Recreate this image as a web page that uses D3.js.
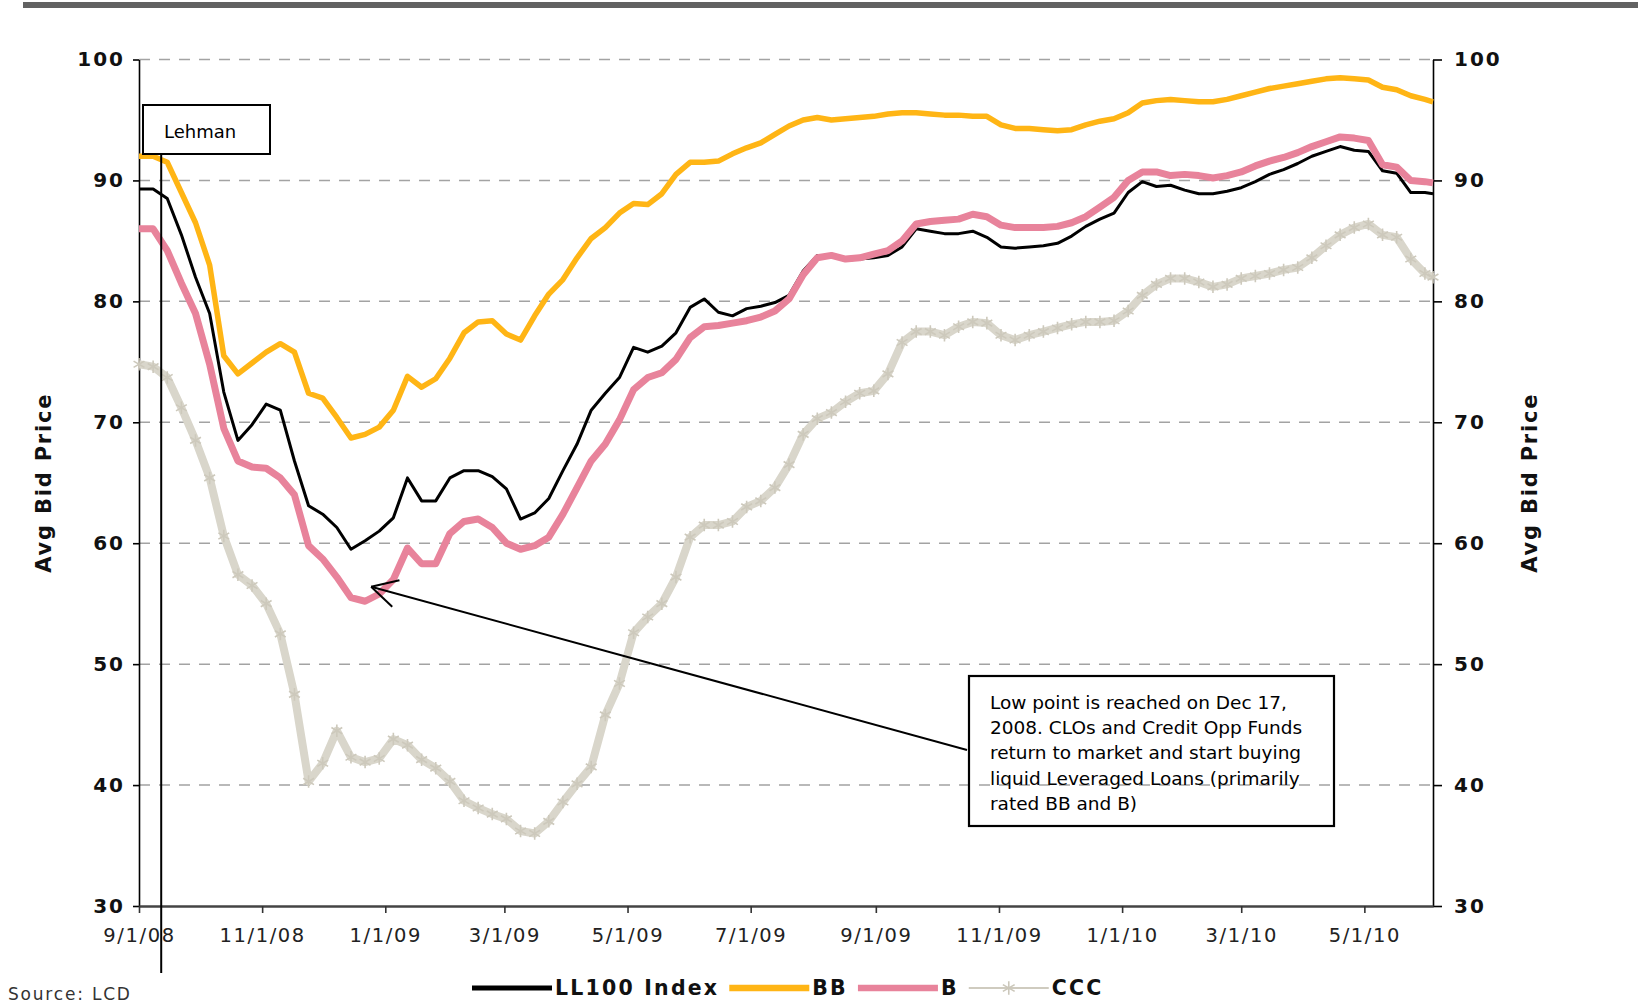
<!DOCTYPE html>
<html>
<head>
<meta charset="utf-8">
<script src="https://cdn.jsdelivr.net/npm/d3@7/dist/d3.min.js"></script>
<style>
  body { margin: 0; background: #fff; }
  svg { display: block; font-family: "DejaVu Sans", Verdana, sans-serif; }
</style>
</head>
<body>
<div id="chart"></div>
<script>
// weekly readings (Mondays), last point is the axis end
const dates = [
  "2008-09-01","2008-09-08","2008-09-15","2008-09-22","2008-09-29","2008-10-06","2008-10-13","2008-10-20","2008-10-27",
  "2008-11-03","2008-11-10","2008-11-17","2008-11-24","2008-12-01","2008-12-08","2008-12-15","2008-12-22","2008-12-29",
  "2009-01-05","2009-01-12","2009-01-19","2009-01-26","2009-02-02","2009-02-09","2009-02-16","2009-02-23",
  "2009-03-02","2009-03-09","2009-03-16","2009-03-23","2009-03-30","2009-04-06","2009-04-13","2009-04-20","2009-04-27",
  "2009-05-04","2009-05-11","2009-05-18","2009-05-25","2009-06-01","2009-06-08","2009-06-15","2009-06-22","2009-06-29",
  "2009-07-06","2009-07-13","2009-07-20","2009-07-27","2009-08-03","2009-08-10","2009-08-17","2009-08-24","2009-08-31",
  "2009-09-07","2009-09-14","2009-09-21","2009-09-28","2009-10-05","2009-10-12","2009-10-19","2009-10-26",
  "2009-11-02","2009-11-09","2009-11-16","2009-11-23","2009-11-30","2009-12-07","2009-12-14","2009-12-21","2009-12-28",
  "2010-01-04","2010-01-11","2010-01-18","2010-01-25","2010-02-01","2010-02-08","2010-02-15","2010-02-22",
  "2010-03-01","2010-03-08","2010-03-15","2010-03-22","2010-03-29","2010-04-05","2010-04-12","2010-04-19","2010-04-26",
  "2010-05-03","2010-05-10","2010-05-17","2010-05-24","2010-05-31","2010-06-04"
];

const ll100 = [
  89.3,89.3,88.5,85.5,82.0,79.0,72.5,68.5,69.8,71.5,71.0,66.8,63.1,62.4,61.3,59.5,60.2,61.0,
  62.1,65.4,63.5,63.5,65.4,66.0,66.0,65.5,64.5,62.0,62.5,63.7,66.0,68.2,71.0,72.4,73.7,
  76.2,75.8,76.3,77.4,79.5,80.2,79.1,78.8,79.4,79.6,79.9,80.5,82.5,83.8,83.7,83.4,83.5,83.6,
  83.8,84.5,86.0,85.8,85.6,85.6,85.8,85.3,84.5,84.4,84.5,84.6,84.8,85.4,86.2,86.8,87.3,
  89.0,89.9,89.5,89.6,89.2,88.9,88.9,89.1,89.4,89.9,90.5,90.9,91.4,92.0,92.4,92.8,92.5,
  92.4,90.8,90.6,89.0,89.0,88.9
];

const bb = [
  92.0,92.0,91.5,89.0,86.5,83.0,75.5,74.0,74.9,75.8,76.5,75.8,72.4,72.0,70.4,68.7,69.0,69.6,
  71.0,73.8,72.9,73.6,75.3,77.4,78.3,78.4,77.3,76.8,78.8,80.6,81.8,83.6,85.2,86.1,87.3,
  88.1,88.0,88.9,90.5,91.5,91.5,91.6,92.2,92.7,93.1,93.8,94.5,95.0,95.2,95.0,95.1,95.2,95.3,
  95.5,95.6,95.6,95.5,95.4,95.4,95.3,95.3,94.6,94.3,94.3,94.2,94.1,94.2,94.6,94.9,95.1,
  95.6,96.4,96.6,96.7,96.6,96.5,96.5,96.7,97.0,97.3,97.6,97.8,98.0,98.2,98.4,98.5,98.4,
  98.3,97.7,97.5,97.0,96.7,96.5
];

const bRated = [
  86.0,86.0,84.2,81.5,79.0,74.8,69.5,66.8,66.3,66.2,65.4,64.0,59.8,58.7,57.2,55.5,55.2,55.8,
  57.0,59.6,58.3,58.3,60.8,61.8,62.0,61.3,60.0,59.5,59.8,60.5,62.4,64.6,66.8,68.2,70.2,
  72.7,73.7,74.1,75.2,77.0,77.9,78.0,78.2,78.4,78.7,79.2,80.2,82.2,83.6,83.8,83.5,83.6,83.9,
  84.2,85.0,86.4,86.6,86.7,86.8,87.2,87.0,86.3,86.1,86.1,86.1,86.2,86.5,87.0,87.8,88.6,
  90.0,90.7,90.7,90.4,90.5,90.4,90.2,90.4,90.7,91.2,91.6,91.9,92.3,92.8,93.2,93.6,93.5,
  93.3,91.3,91.1,90.0,89.9,89.8
];

const ccc = [
  74.8,74.6,73.7,71.2,68.5,65.4,60.6,57.4,56.5,55.0,52.5,47.5,40.3,41.8,44.5,42.3,41.9,42.2,
  43.8,43.3,42.1,41.4,40.3,38.7,38.1,37.6,37.2,36.2,36.0,37.0,38.6,40.1,41.5,45.8,48.4,
  52.6,53.9,55.0,57.2,60.5,61.5,61.5,61.8,63.0,63.5,64.6,66.5,69.0,70.3,70.8,71.7,72.4,72.6,
  74.0,76.6,77.5,77.5,77.2,77.9,78.3,78.2,77.2,76.8,77.2,77.5,77.8,78.1,78.3,78.3,78.4,
  79.2,80.5,81.4,81.9,81.9,81.6,81.2,81.4,81.9,82.1,82.3,82.6,82.8,83.6,84.6,85.5,86.1,
  86.4,85.5,85.3,83.5,82.3,82.0
];

const seriesNames = ["LL100 Index", "BB", "B", "CCC"];
const yTicks = [30, 40, 50, 60, 70, 80, 90, 100];
const xTickDates = ["2008-09-01","2008-11-01","2009-01-01","2009-03-01","2009-05-01","2009-07-01",
                    "2009-09-01","2009-11-01","2010-01-01","2010-03-01","2010-05-01"];
const xTickLabels = ["9/1/08","11/1/08","1/1/09","3/1/09","5/1/09","7/1/09","9/1/09","11/1/09","1/1/10","3/1/10","5/1/10"];
const lehmanDate = "2008-09-12";
const lowPoint = { date: "2008-12-25", value: 56.4 };
const noteLines = [
  "Low point is reached on Dec 17,",
  "2008. CLOs and Credit Opp Funds",
  "return to market and start buying",
  "liquid Leveraged Loans (primarily",
  "rated BB and B)"
];

const W = 1638, H = 1006;
const plotLeft = 139, plotRight = 1433, plotTop = 59.5, plotBottom = 906;
const parse = d3.timeParse("%Y-%m-%d");

const svg = d3.select("#chart").append("svg")
  .attr("width", W).attr("height", H);

// gray rule across the top of the page
svg.append("rect")
  .attr("x", 23).attr("y", 2).attr("width", W - 23).attr("height", 6)
  .attr("fill", "#626262");

const x = d3.scaleTime()
  .domain([parse(dates[0]), parse(dates[dates.length - 1])])
  .range([plotLeft, plotRight]);
const y = d3.scaleLinear().domain([30, 100]).range([plotBottom, plotTop]);

// dashed gridlines
svg.append("g").selectAll("line")
  .data(yTicks.filter(d => d > 30))
  .enter().append("line")
  .attr("x1", plotLeft).attr("x2", plotRight)
  .attr("y1", d => y(d)).attr("y2", d => y(d))
  .attr("stroke", "#a3a3a3").attr("stroke-width", 1.5)
  .attr("stroke-dasharray", "11,9");

// axes
const yLeft = svg.append("g")
  .attr("transform", "translate(" + plotLeft + ",0)")
  .call(d3.axisLeft(y).tickValues(yTicks).tickSize(6).tickSizeOuter(0).tickPadding(8));
const yRight = svg.append("g")
  .attr("transform", "translate(" + plotRight + ",0)")
  .call(d3.axisRight(y).tickValues(yTicks).tickSize(9).tickSizeOuter(0).tickPadding(12));
[yLeft, yRight].forEach(g => {
  g.selectAll("text")
    .attr("font-family", "DejaVu Sans").attr("font-size", 20).attr("font-weight", "bold")
    .attr("letter-spacing", 2).attr("fill", "#111");
  g.selectAll("line,path").attr("stroke", "#000").attr("stroke-width", 1.6);
});

const xAxis = svg.append("g")
  .attr("transform", "translate(0," + plotBottom + ")")
  .call(d3.axisBottom(x)
    .tickValues(xTickDates.map(parse))
    .tickFormat((d, i) => xTickLabels[i])
    .tickSize(7).tickSizeOuter(0).tickPadding(15));
xAxis.selectAll("text")
  .attr("font-family", "DejaVu Sans").attr("font-size", 19.5)
  .attr("letter-spacing", 1.6).attr("fill", "#222");
xAxis.selectAll("line").attr("stroke", "#333").attr("stroke-width", 1.6);
xAxis.select("path").attr("stroke", "#444").attr("stroke-width", 2.4);

// axis titles
[44, 1530].forEach(tx => {
  svg.append("text")
    .attr("transform", "translate(" + tx + "," + ((plotTop + plotBottom) / 2) + ") rotate(-90)")
    .attr("text-anchor", "middle").attr("dy", "0.35em")
    .attr("font-size", 21).attr("font-weight", "bold").attr("letter-spacing", 1.8)
    .attr("fill", "#111")
    .text("Avg Bid Price");
});

// series
const series = [
  { name: seriesNames[0], values: ll100, color: "#000000", width: 3 },
  { name: seriesNames[1], values: bb, color: "#ffb515", width: 5.5 },
  { name: seriesNames[2], values: bRated, color: "#e8839b", width: 7 },
  { name: seriesNames[3], values: ccc, color: "#d9d6cb", width: 8, marker: true }
];

const line = d3.line()
  .x((d, i) => x(parse(dates[i])))
  .y(d => y(d));

const star = d3.symbol().type(d3.symbolAsterisk).size(110);

series.forEach(s => {
  svg.append("path")
    .datum(s.values)
    .attr("fill", "none")
    .attr("stroke", s.color)
    .attr("stroke-width", s.width)
    .attr("stroke-linejoin", "round")
    .attr("d", line);
  if (s.marker) {
    svg.append("g").selectAll("path")
      .data(s.values)
      .enter().append("path")
      .attr("transform", (d, i) => "translate(" + x(parse(dates[i])) + "," + y(d) + ")")
      .attr("d", star)
      .attr("fill", "none")
      .attr("stroke", "#cdc9bc")
      .attr("stroke-width", 1.6);
  }
});

// Lehman marker
const lx = x(parse(lehmanDate));
svg.append("line")
  .attr("x1", lx).attr("x2", lx).attr("y1", 154).attr("y2", 973)
  .attr("stroke", "#000").attr("stroke-width", 2);
svg.append("rect")
  .attr("x", 143).attr("y", 105).attr("width", 127).attr("height", 49)
  .attr("fill", "#fff").attr("stroke", "#000").attr("stroke-width", 2);
svg.append("text")
  .attr("x", 164).attr("y", 138)
  .attr("font-size", 18).attr("fill", "#000")
  .text("Lehman");

// low point note with arrow
const tipX = x(parse(lowPoint.date)), tipY = y(lowPoint.value);
const fromX = 967, fromY = 750;
svg.append("line")
  .attr("x1", fromX).attr("y1", fromY).attr("x2", tipX).attr("y2", tipY)
  .attr("stroke", "#000").attr("stroke-width", 2);
const ang = Math.atan2(fromY - tipY, fromX - tipX);
[-0.49, 0.49].forEach(da => {
  svg.append("line")
    .attr("x1", tipX).attr("y1", tipY)
    .attr("x2", tipX + 29 * Math.cos(ang + da))
    .attr("y2", tipY + 29 * Math.sin(ang + da))
    .attr("stroke", "#000").attr("stroke-width", 2);
});
svg.append("rect")
  .attr("x", 969).attr("y", 676).attr("width", 365).attr("height", 150)
  .attr("fill", "none").attr("stroke", "#000").attr("stroke-width", 2.2);
svg.append("g").selectAll("text")
  .data(noteLines)
  .enter().append("text")
  .attr("x", 990).attr("y", (d, i) => 709 + i * 25.2)
  .attr("font-size", 18.5).attr("fill", "#000")
  .text(d => d);

// legend
const legend = svg.append("g").attr("transform", "translate(0,988)");
let legX = 472;
series.forEach(s => {
  const g = legend.append("g").attr("transform", "translate(" + legX + ",0)");
  g.append("line")
    .attr("x1", 0).attr("x2", 80).attr("y1", 0).attr("y2", 0)
    .attr("stroke", s.marker ? "#cfcbbf" : s.color)
    .attr("stroke-width", s.marker ? 2 : (s.name === "LL100 Index" ? 5 : 6.5));
  if (s.marker) {
    g.append("path").attr("transform", "translate(40,0)")
      .attr("d", d3.symbol().type(d3.symbolAsterisk).size(130)())
      .attr("fill", "none").attr("stroke", "#cbc7ba").attr("stroke-width", 1.6);
  }
  const t = g.append("text")
    .attr("x", 83).attr("dy", "0.36em")
    .attr("font-size", 20.5).attr("font-weight", "bold").attr("letter-spacing", 2.2)
    .attr("fill", "#111")
    .text(s.name);
  legX += 83 + t.node().getComputedTextLength() + 10;
});

svg.append("text")
  .attr("x", 8).attr("y", 1000)
  .attr("font-size", 17).attr("letter-spacing", 1.8).attr("fill", "#333")
  .text("Source: LCD");
</script>
</body>
</html>
